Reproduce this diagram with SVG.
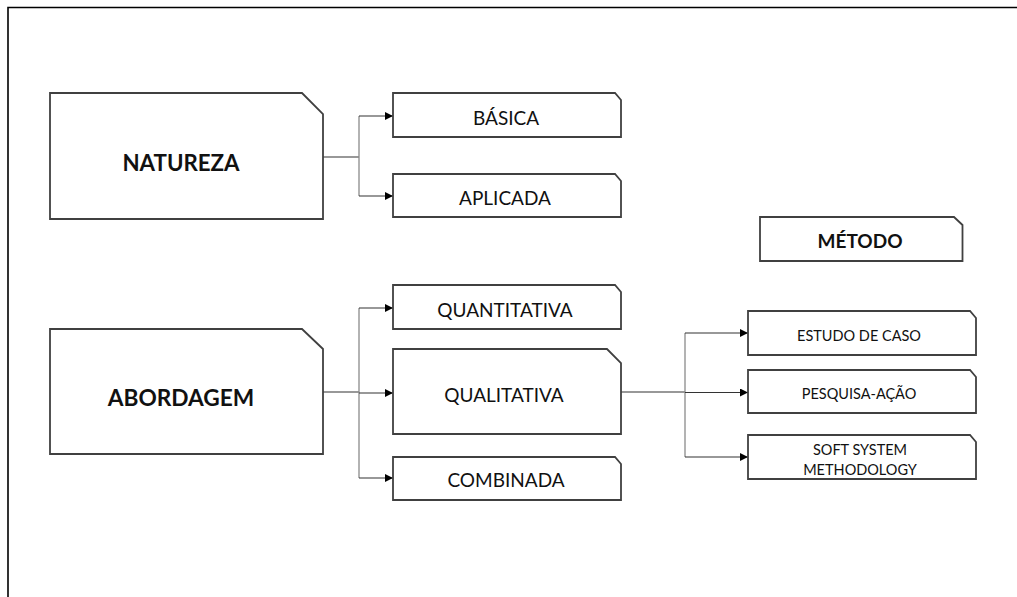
<svg xmlns="http://www.w3.org/2000/svg" width="1017" height="597" viewBox="0 0 1017 597">
<style>
.box{fill:#fff;stroke:#404040;stroke-width:1.8}
.t{font-family:Lato,"Liberation Sans",sans-serif;fill:#111;text-anchor:middle}
.b{font-weight:bold}
.trunk{fill:none;stroke:#8a8a8a;stroke-width:1.3}
.arr{fill:none;stroke:#333;stroke-width:1.2;marker-end:url(#ah)}
.ln{fill:none;stroke:#333;stroke-width:1.2}
</style>
<defs>
<marker id="ah" viewBox="0 0 10 10" refX="10" refY="5" markerWidth="8" markerHeight="8" markerUnits="userSpaceOnUse" orient="auto">
<path d="M0,0 L10,5 L0,10 Z" fill="#000"/>
</marker>
</defs>
<rect width="1017" height="597" fill="#fff"/>
<path d="M8,597 V7.5 H1017" fill="none" stroke="#000" stroke-width="1.6"/>

<g id="connectors">
<path class="ln" d="M323,157 H359"/>
<path class="trunk" d="M359,116 V196"/>
<path class="arr" d="M359,116 H393"/>
<path class="arr" d="M359,196 H393"/>
<path class="ln" d="M323,392 H359"/>
<path class="trunk" d="M359,308 V478"/>
<path class="arr" d="M359,308 H393"/>
<path class="arr" d="M359,393 H393"/>
<path class="arr" d="M359,478 H393"/>
<path class="ln" d="M621,392 H685"/>
<path class="trunk" d="M685,333 V457"/>
<path class="arr" d="M685,333 H748"/>
<path class="arr" d="M685,392.5 H748"/>
<path class="arr" d="M685,457 H748"/>
</g>

<g id="natureza">
<path class="box" d="M50,93 H302 L323,114 V219 H50 Z"/>
<text class="t b" x="181" y="170.5" font-size="22.3">NATUREZA</text>
</g>
<g id="basica">
<path class="box" d="M393,93 H615 L621,100 V137 H393 Z"/>
<text class="t" x="506" y="125" font-size="19">BÁSICA</text>
</g>
<g id="aplicada">
<path class="box" d="M393,174 H615 L621,181 V217 H393 Z"/>
<text class="t" x="505" y="204.5" font-size="19">APLICADA</text>
</g>
<g id="abordagem">
<path class="box" d="M50,329 H302 L323,349 V454 H50 Z"/>
<text class="t b" x="181" y="406" font-size="22.7">ABORDAGEM</text>
</g>
<g id="quantitativa">
<path class="box" d="M393,285 H615 L621,292 V329 H393 Z"/>
<text class="t" x="505" y="316.5" font-size="19">QUANTITATIVA</text>
</g>
<g id="qualitativa">
<path class="box" d="M393,349 H607 L621,363 V434 H393 Z"/>
<text class="t" x="504" y="402" font-size="19">QUALITATIVA</text>
</g>
<g id="combinada">
<path class="box" d="M393,457 H615 L621,464 V500 H393 Z"/>
<text class="t" x="506" y="487" font-size="19">COMBINADA</text>
</g>
<g id="metodo">
<path class="box" d="M760,217 H954 L962.5,225 V261 H760 Z"/>
<text class="t b" x="860" y="247.5" font-size="19">MÉTODO</text>
</g>
<g id="estudo">
<path class="box" d="M748,311 H970 L976,318 V355 H748 Z"/>
<text class="t" x="859" y="341" font-size="14.5">ESTUDO DE CASO</text>
</g>
<g id="pesquisa">
<path class="box" d="M748,370 H970 L976,377 V413 H748 Z"/>
<text class="t" x="859" y="399" font-size="14.5">PESQUISA-AÇÃO</text>
</g>
<g id="soft">
<path class="box" d="M748,435 H970 L976,442 V479 H748 Z"/>
<text class="t" x="860" y="454.5" font-size="14.5">SOFT SYSTEM</text>
<text class="t" x="860" y="475" font-size="14.5">METHODOLOGY</text>
</g>
</svg>
